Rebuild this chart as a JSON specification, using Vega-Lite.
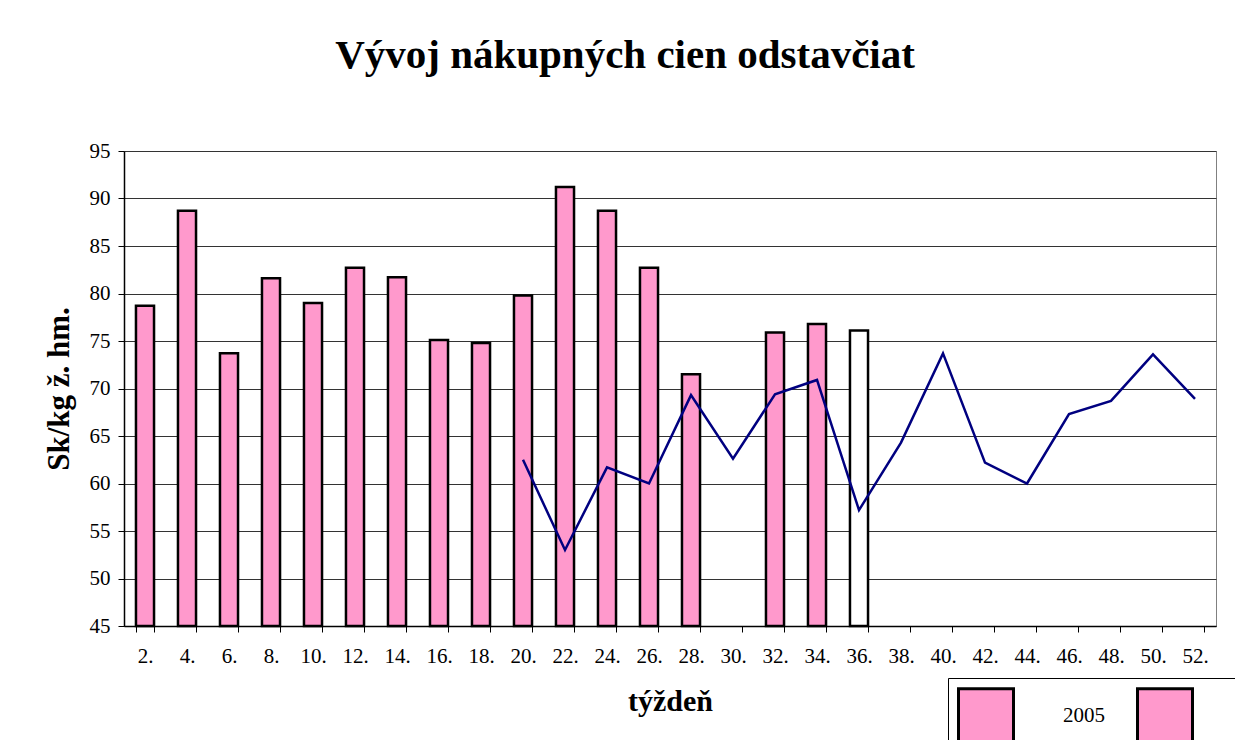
{
  "$schema": "https://vega.github.io/schema/vega-lite/v6.json",
  "width": 1092,
  "height": 475,
  "autosize": {"type": "none"},
  "padding": {"left": 124, "top": 151, "right": 19, "bottom": 114},
  "background": "white",
  "config": {
    "font": "Liberation Serif",
    "view": {"stroke": "#808080", "strokeWidth": 1}
  },
  "title": {
    "text": "Vývoj nákupných cien odstavčiat",
    "font": "Liberation Serif",
    "fontSize": 41,
    "fontWeight": "bold",
    "color": "black",
    "anchor": "middle",
    "dx": -45,
    "offset": 63
  },
  "data": {
    "values": [
      {"week": 2, "y2005": 78.7, "y2004": null},
      {"week": 4, "y2005": 88.7, "y2004": null},
      {"week": 6, "y2005": 73.7, "y2004": null},
      {"week": 8, "y2005": 81.6, "y2004": null},
      {"week": 10, "y2005": 79.0, "y2004": null},
      {"week": 12, "y2005": 82.7, "y2004": null},
      {"week": 14, "y2005": 81.7, "y2004": null},
      {"week": 16, "y2005": 75.1, "y2004": null},
      {"week": 18, "y2005": 74.8, "y2004": null},
      {"week": 20, "y2005": 79.8, "y2004": 62.5},
      {"week": 22, "y2005": 91.2, "y2004": 53.0},
      {"week": 24, "y2005": 88.7, "y2004": 61.7},
      {"week": 26, "y2005": 82.7, "y2004": 60.0},
      {"week": 28, "y2005": 71.5, "y2004": 69.3},
      {"week": 30, "y2005": null, "y2004": 62.6},
      {"week": 32, "y2005": 75.9, "y2004": 69.4},
      {"week": 34, "y2005": 76.8, "y2004": 70.9},
      {"week": 36, "y2005": 76.1, "y2004": 57.2},
      {"week": 38, "y2005": null, "y2004": 64.3},
      {"week": 40, "y2005": null, "y2004": 73.7},
      {"week": 42, "y2005": null, "y2004": 62.2},
      {"week": 44, "y2005": null, "y2004": 60.0},
      {"week": 46, "y2005": null, "y2004": 67.3},
      {"week": 48, "y2005": null, "y2004": 68.7},
      {"week": 50, "y2005": null, "y2004": 73.6},
      {"week": 52, "y2005": null, "y2004": 68.9}
    ]
  },
  "encoding": {
    "x": {
      "field": "week",
      "type": "ordinal",
      "scale": {"paddingInner": 0.57, "paddingOuter": 0.285},
      "axis": {
        "title": "týždeň",
        "titleFont": "Liberation Serif",
        "titleFontSize": 30,
        "titleFontWeight": "bold",
        "titleColor": "black",
        "titlePadding": 20,
        "labelExpr": "datum.value == null ? '' : datum.value + '.'",
        "labelAngle": 0,
        "labelFont": "Liberation Serif",
        "labelFontSize": 21,
        "labelColor": "black",
        "labelPadding": 13,
        "labelOverlap": false,
        "tickBand": "extent",
        "tickSize": 6,
        "tickColor": "black",
        "domainColor": "black",
        "domainWidth": 1.5,
        "grid": false
      }
    }
  },
  "layer": [
    {
      "mark": {"type": "bar", "color": "#FF99CC", "stroke": "black", "strokeWidth": 2.5},
      "encoding": {
        "y": {
          "field": "y2005",
          "type": "quantitative",
          "scale": {"domain": [45, 95], "zero": false, "nice": false},
          "axis": {
            "title": "Sk/kg ž. hm.",
            "titleFont": "Liberation Serif",
            "titleFontSize": 31,
            "titleFontWeight": "bold",
            "titleColor": "black",
            "titlePadding": 14,
            "values": [45, 50, 55, 60, 65, 70, 75, 80, 85, 90, 95],
            "labelFont": "Liberation Serif",
            "labelFontSize": 21,
            "labelColor": "black",
            "labelPadding": 8,
            "tickSize": 6,
            "tickColor": "black",
            "domainColor": "black",
            "domainWidth": 1.5,
            "grid": true,
            "gridColor": "#333333",
            "gridWidth": 1
          }
        },
        "y2": {"datum": 45},
        "fill": {
          "condition": {"test": "datum.week == 36", "value": "white"},
          "value": "#FF99CC"
        },
        "opacity": {
          "datum": "2005",
          "type": "nominal",
          "scale": {"type": "ordinal", "domain": ["2005", "2004"], "range": [1, 1]},
          "legend": {
            "title": null,
            "orient": "none",
            "direction": "horizontal",
            "legendX": 824,
            "legendY": 527,
            "padding": 9,
            "strokeColor": "black",
            "fillColor": "white",
            "labelFont": "Liberation Serif",
            "labelFontSize": 21,
            "labelColor": "black",
            "labelOffset": 48,
            "columnPadding": 26,
            "symbolSize": 3025,
            "symbolStrokeWidth": 3,
            "encode": {
              "symbols": {
                "update": {
                  "shape": {"signal": "datum.value === '2004' ? 'M-0.06,0H1.98' : 'M0.03,-0.16H1.89V0.16H0.03Z'"},
                  "stroke": {"signal": "datum.value === '2004' ? '#000080' : '#000000'"},
                  "fill": {"signal": "datum.value === '2004' ? 'transparent' : '#FF99CC'"},
                  "strokeWidth": {"signal": "datum.value === '2004' ? 2 : 3"},
                  "strokeOpacity": {"value": 1},
                  "fillOpacity": {"value": 1}
                }
              }
            }
          }
        }
      }
    },
    {
      "mark": {"type": "line", "color": "#000080", "strokeWidth": 2.5},
      "encoding": {
        "y": {"field": "y2004", "type": "quantitative"},
        "opacity": {
          "datum": "2004",
          "type": "nominal",
          "scale": {"type": "ordinal", "domain": ["2005", "2004"], "range": [1, 1]},
          "legend": {
            "title": null,
            "orient": "none",
            "direction": "horizontal",
            "legendX": 824,
            "legendY": 527,
            "padding": 9,
            "strokeColor": "black",
            "fillColor": "white",
            "labelFont": "Liberation Serif",
            "labelFontSize": 21,
            "labelColor": "black",
            "labelOffset": 48,
            "columnPadding": 26,
            "symbolSize": 3025,
            "symbolStrokeWidth": 3,
            "encode": {
              "symbols": {
                "update": {
                  "shape": {"signal": "datum.value === '2004' ? 'M-0.06,0H1.98' : 'M0.03,-0.16H1.89V0.16H0.03Z'"},
                  "stroke": {"signal": "datum.value === '2004' ? '#000080' : '#000000'"},
                  "fill": {"signal": "datum.value === '2004' ? 'transparent' : '#FF99CC'"},
                  "strokeWidth": {"signal": "datum.value === '2004' ? 2 : 3"},
                  "strokeOpacity": {"value": 1},
                  "fillOpacity": {"value": 1}
                }
              }
            }
          }
        }
      }
    }
  ]
}
